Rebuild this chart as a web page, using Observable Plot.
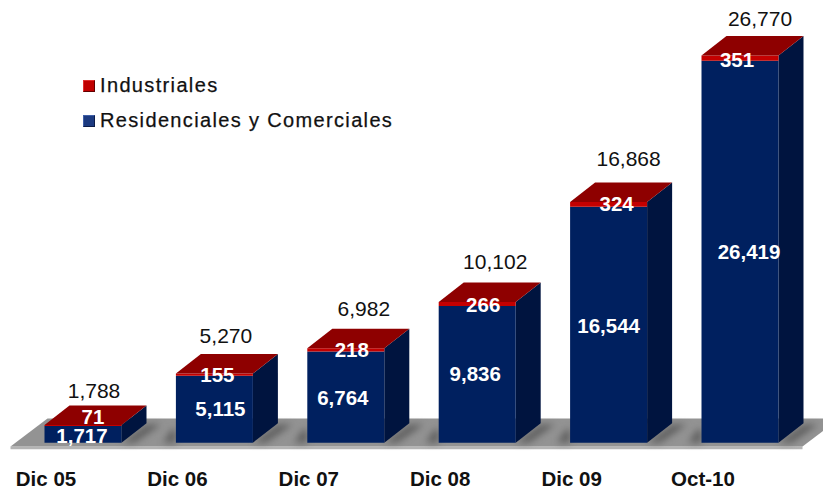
<!DOCTYPE html>
<html><head><meta charset="utf-8">
<script src="https://cdn.jsdelivr.net/npm/d3@7"></script>
<script src="https://cdn.jsdelivr.net/npm/@observablehq/plot@0.6"></script>
<style>
html,body{margin:0;padding:0;background:#fff;}
#wrap{position:relative;width:823px;height:494px;overflow:hidden;font-family:"Liberation Sans",Arial,sans-serif;}
#wrap svg{display:block;}
.lg{position:absolute;left:83px;display:flex;align-items:center;font-size:20px;letter-spacing:1.35px;color:#111;white-space:nowrap;-webkit-text-stroke:0.25px #111;}
.sw{width:10px;height:10px;margin-right:5px;border:1px solid;box-sizing:content-box;}
</style></head><body><div id="wrap"></div>
<script>
const categories = ["Dic 05","Dic 06","Dic 07","Dic 08","Dic 09","Oct-10"];
const residenciales = [1717,5115,6764,9836,16544,26419];
const industriales = [71,155,218,266,324,351];
const totals = [1788,5270,6982,10102,16868,26770];

// label nudges in pixels, as hand placed in the original
const totalNudge = [[11,-34],[11.5,-37],[18,-39],[18,-40],[20,-43],[20,-36]];
const resNudge = [[-1,-2],[6,-4],[-3,-3],[-2,-4],[0,-3],[9,-4]];
const indNudge = [[10,-8],[3,2],[6,2],[6,3],[8,2],[-3,5]];

const depthX = 25/131.4, depthY = 1318, halfW = 38.5/131.4, floorV = 600;
const faces = [];
const poly = (id, fill, pts) => pts.forEach(([x,y]) => faces.push({id, fill, x, y}));
categories.forEach((c,i) => {
  const l=i-halfW, r=i+halfW, t=totals[i], s=residenciales[i], b=floorV;
  poly(`side${i}`,"#00143f",[[r,b],[r+depthX,b+depthY],[r+depthX,t+depthY],[r,t]]);
  poly(`front${i}`,"#00205f",[[l,b],[r,b],[r,s],[l,s]]);
  poly(`strip${i}`,"#c40000",[[l,s],[r,s],[r,t],[l,t]]);
  poly(`top${i}`,"#8e0000",[[l,t],[r,t],[r+depthX,t+depthY],[l+depthX,t+depthY]]);
});
const fL=-72.5/131.4, fR=719.5/131.4, fD=37/131.4, fFront=330, fBack=2230;
const floor = [[fL,fFront],[fR,fFront],[fR+fD,fBack],[fL+fD,fBack]].map(([x,y])=>({x,y}));
const edge = [[fL,fFront],[fR,fFront],[fR,fFront-170],[fL,fFront-170]].map(([x,y])=>({x,y}));
const shadows = [];
categories.forEach((c,i)=>{
  const r=i+halfW, l=i-halfW;
  [[r,floorV],[r+0.10,floorV],[r+0.30,floorV+depthY-100],[r+depthX,floorV+depthY-100]].forEach(([x,y])=>shadows.push({id:`a${i}`,x,y}));
  if(i>0)[[l-0.10,floorV],[l,floorV],[l,floorV+900],[l-0.03,floorV+900]].forEach(([x,y])=>shadows.push({id:`b${i}`,x,y}));
});

const chart = Plot.plot({
  width:823,height:494,marginLeft:0,marginRight:0,marginTop:0,marginBottom:30,
  x:{type:"linear",domain:[-82.5/131.4,740.5/131.4]},
  y:{domain:[(451-464)/0.01479,451/0.01479],axis:null},
  style:{fontFamily:"'Liberation Sans',Arial,sans-serif",background:"#fff"},
  marks:[
    Plot.line(edge,{x:"x",y:"y",fill:"#b4b4b4",stroke:"none"}),
    Plot.line(floor,{x:"x",y:"y",fill:"#939393",stroke:"none"}),
    Plot.line(shadows,{x:"x",y:"y",z:"id",fill:"#3c3c3c",stroke:"none",fillOpacity:0.6,imageFilter:"blur(3.5px)"}),
    Plot.line(faces,{x:"x",y:"y",z:"id",fill:"fill",stroke:"none"}),
    ...categories.map((c,i)=>Plot.text([i],{x:d=>d,y:()=>totals[i],text:()=>d3.format(",")(totals[i]),dx:totalNudge[i][0],dy:totalNudge[i][1],fontSize:21,fill:"#111",stroke:"none"})),
    ...categories.map((c,i)=>Plot.text([i],{x:d=>d,y:()=>residenciales[i]/2,text:()=>d3.format(",")(residenciales[i]),dx:resNudge[i][0],dy:resNudge[i][1],fontSize:20.5,fontWeight:"bold",fill:"#fff"})),
    ...categories.map((c,i)=>Plot.text([i],{x:d=>d,y:()=>totals[i],text:()=>String(industriales[i]),dx:indNudge[i][0],dy:indNudge[i][1],fontSize:20.5,fontWeight:"bold",fill:"#fff"})),
    Plot.axisX({ticks:d3.range(categories.length),tickFormat:i=>categories[i],tickSize:0,tickPadding:7,dx:-37,label:null,fontSize:20.5,fontWeight:"bold",fill:"#111"})
  ]
});
const wrap=document.getElementById("wrap");
wrap.append(chart);
[["Industriales","#c00000","#e03030 #600000 #600000 #e03030",74],["Residenciales y Comerciales","#1c3a80","#4060a8 #0c1c48 #0c1c48 #4060a8",109]].forEach(([t,c,b,top])=>{
  const d=document.createElement("div");d.className="lg";d.style.top=top+"px";
  const s=document.createElement("span");s.className="sw";s.style.background=c;s.style.borderColor=b;d.append(s);
  d.append(t);wrap.append(d);
});
</script></body></html>
